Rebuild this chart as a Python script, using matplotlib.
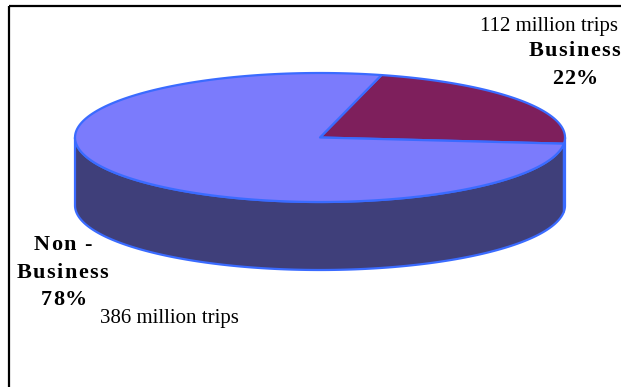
import numpy as np
import matplotlib
matplotlib.use("Agg")
import matplotlib.pyplot as plt
from matplotlib.patches import Polygon, Rectangle
from matplotlib.font_manager import FontProperties

# trip purpose split (million trips)
categories = ["Business", "Non -", "Business"]
trips = [112, 386]
top_colors = ["#7e1f5c", "#7b7bfc"]
side_colors = ["#4a1238", "#3f3f7a"]
edge_color = "#3a6bff"

total = sum(trips)
shares = [t / total * 100 for t in trips]

fig = plt.figure(figsize=(6.21, 3.87), dpi=100)
ax = fig.add_axes([0, 0, 1, 1])
ax.set_xlim(0, 621)
ax.set_ylim(387, 0)
ax.axis("off")
renderer = fig.canvas.get_renderer()

# outer chart frame (runs off the right and bottom)
ax.add_patch(Rectangle((9, 6), 640, 400, fill=False, ec="black", lw=1.6))

cx, cy, a, b, depth = 320, 137.5, 245, 64.5, 68
start = -5.5


def ellipse_pts(t0, t1, dy=0, n=200):
    t = np.radians(np.linspace(t0, t1, n))
    return np.column_stack([cx + a * np.cos(t), cy - b * np.sin(t) + dy])


def spaced_text(x, y, s, track=2.0, size=16):
    """Bold serif text with extra letter spacing, centred on x."""
    fp = FontProperties(family="Liberation Serif", size=size, weight="bold")
    widths = [renderer.get_text_width_height_descent(s[:i], fp, ismath=False)[0]
              for i in range(len(s) + 1)]
    full = widths[-1] + track * (len(s) - 1)
    x0 = x - full / 2
    for i, ch in enumerate(s):
        ax.text(x0 + widths[i] + track * i, y, ch, ha="left", va="center",
                fontproperties=fp)


# wedge angle ranges, counter-clockwise from start
ranges = []
ang = start
for s in shares:
    ranges.append((ang, ang + s * 3.6))
    ang += s * 3.6

# side walls: only the front half (180..360 deg) is visible
for (t0, t1), col in zip(ranges, side_colors):
    for off in (0, 360, -360):
        lo = max(t0 + off, 180)
        hi = min(t1 + off, 360)
        if hi > lo:
            top = ellipse_pts(lo, hi)
            bot = ellipse_pts(hi, lo, dy=depth)
            ax.add_patch(Polygon(np.vstack([top, bot]), closed=True,
                                 fc=col, ec=edge_color, lw=1.6, joinstyle="round"))

# top faces
for (t0, t1), col in zip(ranges, top_colors):
    pts = np.vstack([[cx, cy], ellipse_pts(t0, t1)])
    ax.add_patch(Polygon(pts, closed=True, fc=col, ec=edge_color, lw=1.6,
                         joinstyle="round"))

serif = "Liberation Serif"
# Business label block
ax.text(618, 27, f"{trips[0]} million trips", ha="right", va="center",
        family=serif, fontsize=15)
spaced_text(574, 51, categories[0], track=1.4)
spaced_text(575, 79, f"{shares[0]:.0f}%", track=1.0)

# Non-business label block
spaced_text(63, 245, categories[1], track=1.4)
spaced_text(62, 273, categories[2], track=1.4)
spaced_text(64, 300, f"{shares[1]:.0f}%", track=1.0)
ax.text(100, 318, f"{trips[1]} million trips", ha="left", va="center",
        family=serif, fontsize=15)

fig.savefig("out.png", dpi=100)
